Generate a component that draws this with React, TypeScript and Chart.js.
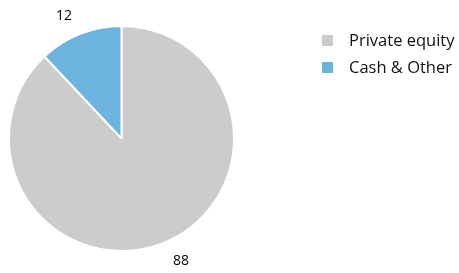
import React, { useEffect, useRef } from "react";
import { Chart, registerables } from "chart.js";

Chart.register(...registerables);

const categories = ["Private equity", "Cash & Other"];
const values = [88, 12];
const colors = ["#cccccc", "#6cb4de"];

const FONT = "'Open Sans', 'Noto Sans', sans-serif";

const labelPlugin = {
  id: "sliceLabels",
  afterDatasetsDraw(chart: any) {
    const ctx = chart.ctx;
    const meta = chart.getDatasetMeta(0);
    ctx.save();
    ctx.font = `14px ${FONT}`;
    ctx.fillStyle = "#000000";
    ctx.textBaseline = "middle";
    meta.data.forEach((arc: any, i: number) => {
      const p = arc.getProps(["x", "y", "startAngle", "endAngle", "outerRadius"], true);
      const mid = (p.startAngle + p.endAngle) / 2;
      const r = p.outerRadius + 19;
      const cx = p.x + Math.cos(mid) * r;
      const cy = p.y + Math.sin(mid) * r;
      const c = Math.cos(mid);
      if (c < 0) {
        ctx.textAlign = "right";
        ctx.fillText(String(values[i]), cx - 1, cy);
      } else {
        ctx.textAlign = "left";
        ctx.fillText(String(values[i]), cx + 3, cy);
      }
    });
    ctx.restore();
  },
};

const legendPlugin = {
  id: "customLegend",
  afterDraw(chart: any) {
    const ctx = chart.ctx;
    ctx.save();
    ctx.font = `16.5px ${FONT}`;
    ctx.textBaseline = "middle";
    ctx.textAlign = "left";
    categories.forEach((name, i) => {
      const y = 40.5 + i * 27;
      ctx.fillStyle = colors[i];
      ctx.fillRect(322, y - 5.5, 11, 11);
      ctx.fillStyle = "#111111";
      ctx.fillText(name, 349, y + 0.5);
    });
    ctx.restore();
  },
};

export default function App() {
  const ref = useRef<HTMLCanvasElement | null>(null);
  useEffect(() => {
    if (!ref.current) return;
    const chart = new Chart(ref.current, {
      type: "pie",
      data: {
        labels: categories,
        datasets: [
          {
            data: values,
            backgroundColor: colors,
            borderColor: "#ffffff",
            borderWidth: 2,
          },
        ],
      },
      options: {
        responsive: false,
        animation: false,
        layout: { padding: { top: 25, bottom: 21, left: 8, right: 224 } },
        plugins: {
          legend: { display: false },
          tooltip: { enabled: false },
        },
      },
      plugins: [labelPlugin, legendPlugin],
    });
    return () => chart.destroy();
  }, []);
  return (
    <div style={{ position: "fixed", left: 0, top: 0, width: 459, height: 273, background: "#fff" }}>
      <canvas ref={ref} width={459} height={273} style={{ display: "block" }} />
    </div>
  );
}
